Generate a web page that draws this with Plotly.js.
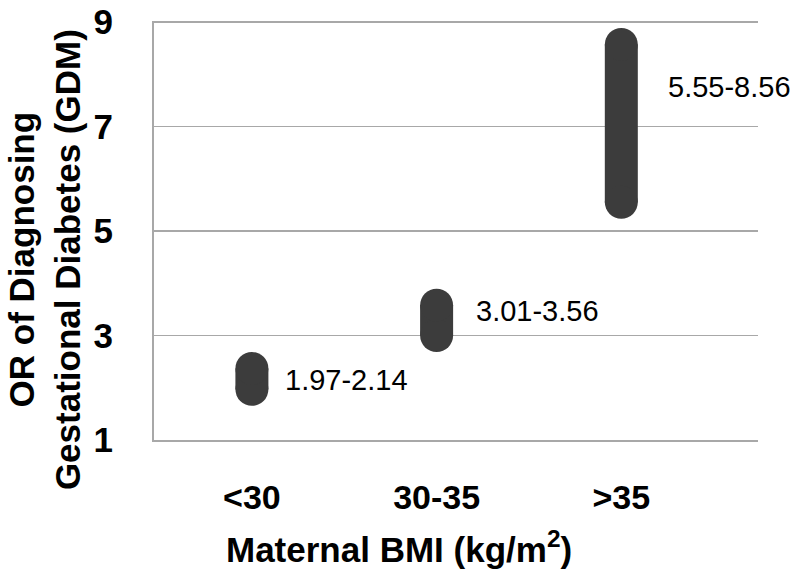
<!DOCTYPE html>
<html>
<head>
<meta charset="utf-8">
<script src="https://cdn.plot.ly/plotly-3.0.1.min.js"></script>
<style>
  html, body { margin: 0; padding: 0; background: #fff; }
  #chart { width: 800px; height: 578px; }
</style>
</head>
<body>
<div id="chart"></div>
<script>
// BMI groups and OR ranges as drawn
const categories = ['<30', '30-35', '>35'];
const orLow = [1.97, 3.0, 5.55];
const orHigh = [2.37, 3.58, 8.57];
const rangeLabels = ['1.97-2.14', '3.01-3.56', '5.55-8.56'];
const yTicks = [1, 3, 5, 7, 9];

const barColor = '#3c3c3c';
const gridColor = '#a8a8a8';
const fontFamily = 'Liberation Sans, Arial, sans-serif';

// one capsule per group: thick line with round markers at both ends
const traces = categories.map((cat, i) => ({
  x: [cat, cat],
  y: [orLow[i], orHigh[i]],
  type: 'scatter',
  mode: 'lines+markers',
  line: { color: barColor, width: 33 },
  marker: { color: barColor, size: 33, symbol: 'circle' },
  showlegend: false,
  hoverinfo: 'skip'
}));

// label placement tweaks (px)
const labelShift = [[31, -12], [37, -6], [45, -42]];

const annotations = categories.map((cat, i) => ({
  x: cat,
  y: orHigh[i],
  xref: 'x',
  yref: 'y',
  text: rangeLabels[i],
  showarrow: false,
  xanchor: 'left',
  yanchor: 'middle',
  xshift: labelShift[i][0],
  yshift: labelShift[i][1],
  font: { family: fontFamily, size: 29, color: '#000' }
}));

annotations.push({
  xref: 'paper', yref: 'paper',
  x: -0.18, y: 0.43,
  xanchor: 'center', yanchor: 'middle',
  textangle: -90,
  text: 'OR of Diagnosing<br>Gestational Diabetes (GDM)',
  showarrow: false,
  font: { family: fontFamily, size: 35, color: '#000', weight: 'bold' }
});

annotations.push({
  xref: 'paper', yref: 'paper',
  x: 0.405, y: -0.255,
  xanchor: 'center', yanchor: 'middle',
  text: 'Maternal BMI (kg/m<sup>2</sup>)',
  showarrow: false,
  font: { family: fontFamily, size: 35, color: '#000', weight: 'bold' }
});

const layout = {
  width: 800,
  height: 578,
  margin: { l: 154, r: 42, t: 21, b: 138 },
  paper_bgcolor: '#fff',
  plot_bgcolor: '#fff',
  showlegend: false,
  xaxis: {
    type: 'category',
    range: [-0.53, 2.74],
    showgrid: false,
    zeroline: false,
    showline: true,
    linecolor: gridColor,
    linewidth: 2,
    ticks: '',
    ticklabelstandoff: 26,
    tickfont: { family: fontFamily, size: 34, color: '#000', weight: 'bold' }
  },
  yaxis: {
    range: [1, 9.02],
    tickvals: yTicks,
    ticktext: yTicks.map(String),
    showgrid: true,
    gridcolor: gridColor,
    gridwidth: 1.5,
    zeroline: false,
    showline: true,
    linecolor: gridColor,
    linewidth: 2,
    ticks: '',
    ticklabelstandoff: 32,
    tickfont: { family: fontFamily, size: 35, color: '#000', weight: 'bold' }
  },
  annotations: annotations
};

Plotly.newPlot('chart', traces, layout, { displayModeBar: false, staticPlot: true });
</script>
</body>
</html>
